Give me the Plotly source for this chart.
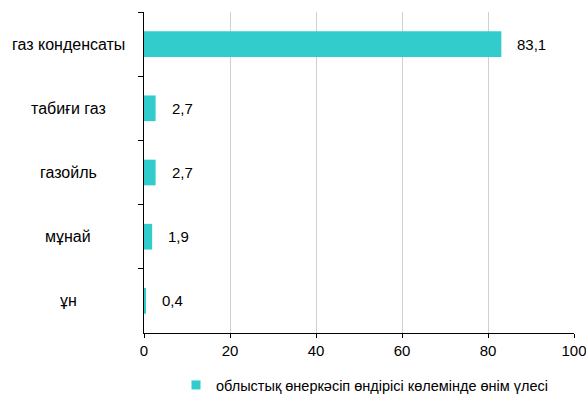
import plotly.graph_objects as go

categories = ["газ конденсаты", "табиғи газ", "газойль", "мұнай", "ұн"]
values = [83.1, 2.7, 2.7, 1.9, 0.4]
series_name = "облыстық өнеркәсіп өндірісі көлемінде өнім үлесі"
x_ticks = [0, 20, 40, 60, 80, 100]

FONT = "Liberation Sans, Arial, sans-serif"
COLOR = "#33CCCC"
W, H = 586, 397
L, R, T, B = 144, 12, 12, 64
PW = W - L - R

fig = go.Figure()
fig.add_trace(go.Bar(
    y=categories, x=values, orientation="h", name=series_name,
    marker=dict(color=COLOR, line=dict(width=0)),
    showlegend=False,
))
# legend entry with a small square symbol
fig.add_trace(go.Scatter(
    x=[None], y=[None], mode="markers", name=series_name,
    marker=dict(symbol="square", size=9, color=COLOR),
    showlegend=True,
))

for c, v in zip(categories, values):
    fig.add_annotation(x=v, y=c, xref="x", yref="y",
                       text=f"{v:.1f}".replace(".", ","),
                       showarrow=False, xanchor="left", xshift=14,
                       font=dict(family=FONT, size=15, color="#000000"))
    # category labels centered in the left margin
    fig.add_annotation(x=-(L - 68) / PW, y=c, xref="paper", yref="y",
                       text=c, showarrow=False, xanchor="center",
                       font=dict(family=FONT, size=16, color="#000000"))

fig.update_layout(
    width=W, height=H,
    margin=dict(l=L, r=R, t=T, b=B, autoexpand=False),
    paper_bgcolor="white", plot_bgcolor="white",
    bargap=0.6,
    separators=", ",
    font=dict(family=FONT, size=14, color="#000000"),
    showlegend=True,
    legend=dict(orientation="h", x=(176 - L) / PW, xanchor="left",
                yref="container", y=(H - 385) / H, yanchor="middle",
                font=dict(family=FONT, size=14.5, color="#000000"),
                itemwidth=30, bgcolor="rgba(0,0,0,0)"),
    xaxis=dict(range=[0, 100], tickvals=x_ticks, showgrid=True, gridcolor="#d0d0d0",
               gridwidth=1, zeroline=False, showline=True, linecolor="#000000",
               linewidth=1, ticks="outside", ticklen=4, tickcolor="#000000",
               tickfont=dict(family=FONT, size=15), automargin=False,
               ticklabeloverflow="allow", fixedrange=True),
    yaxis=dict(autorange="reversed", showline=True, linecolor="#000000", linewidth=1,
               ticks="outside", ticklen=5, tickcolor="#000000",
               tickson="boundaries", showgrid=False, showticklabels=False,
               automargin=False, fixedrange=True),
)

fig.write_html(
    "out.html",
    config={"displayModeBar": False},
    post_script="document.body.style.margin='0';document.body.style.overflow='hidden';",
)
